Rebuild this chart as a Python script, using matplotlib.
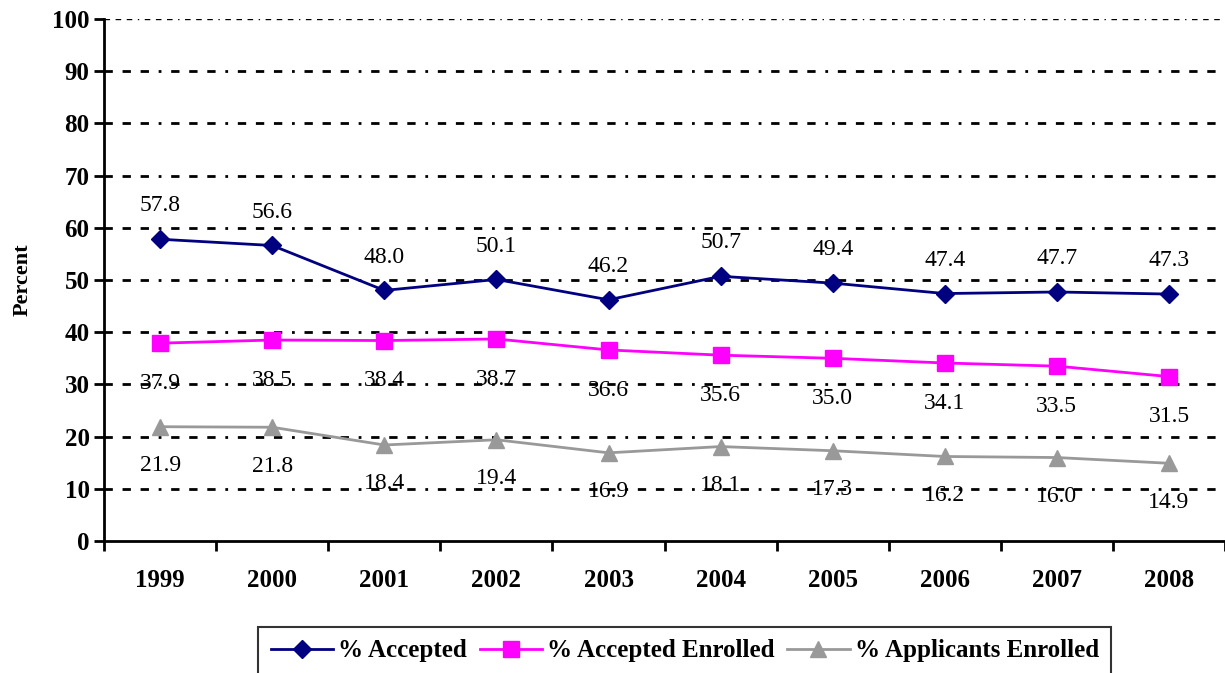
import matplotlib.pyplot as plt
import numpy as np

# DATA
years = ['1999', '2000', '2001', '2002', '2003', '2004', '2005', '2006', '2007', '2008']
accepted = [57.8, 56.6, 48.0, 50.1, 46.2, 50.7, 49.4, 47.4, 47.7, 47.3]
accepted_enrolled = [37.9, 38.5, 38.4, 38.7, 36.6, 35.6, 35.0, 34.1, 33.5, 31.5]
applicants_enrolled = [21.9, 21.8, 18.4, 19.4, 16.9, 18.1, 17.3, 16.2, 16.0, 14.9]

plt.rcParams['font.family'] = ['Liberation Serif', 'DejaVu Serif']

fig = plt.figure(figsize=(12.25, 6.73), dpi=100)
ax = fig.add_axes([0.085, 0.196, 0.915, 0.776])

x = np.arange(len(years))

ax.plot(x, accepted, color='#000080', marker='D', markersize=9, lw=2, label='% Accepted', zorder=3)
ax.plot(x, accepted_enrolled, color='#FF00FF', marker='s', markersize=11, lw=2, label='% Accepted Enrolled', zorder=3)
ax.plot(x, applicants_enrolled, color='#999999', marker='^', markersize=11, lw=2, label='% Applicants Enrolled', zorder=3)

# data labels
for i in range(len(x)):
    ax.annotate(f'{accepted[i]:.1f}', (x[i], accepted[i]), xytext=(0, 24), textcoords='offset points',
                ha='center', va='center', fontsize=17)
    ax.annotate(f'{accepted_enrolled[i]:.1f}', (x[i], accepted_enrolled[i]), xytext=(0, -29), textcoords='offset points',
                ha='center', va='center', fontsize=17)
    ax.annotate(f'{applicants_enrolled[i]:.1f}', (x[i], applicants_enrolled[i]), xytext=(0, -28), textcoords='offset points',
                ha='center', va='center', fontsize=17)

ax.set_ylim(0, 100)
ax.set_xlim(-0.5, 9.48)
ax.set_yticks(range(0, 101, 10))
for yv in range(10, 100, 10):
    ax.axhline(yv, color='black', lw=2, dashes=(3, 3.5, 3, 3.5, 3, 3.5, 1, 3.5), zorder=1)
ax.axhline(100, color='black', lw=1, dashes=(4, 4, 4, 4, 4, 4, 1, 4), zorder=1)

ax.set_xticks(x)
ax.set_xticklabels(years, fontsize=18, fontweight='bold')
ax.set_xticks(np.arange(-0.5, 9.6, 1), minor=True)
ax.tick_params(axis='x', which='major', length=0, pad=20)
ax.tick_params(axis='x', which='minor', length=7, width=2, direction='out')
ax.tick_params(axis='y', length=7, width=2, direction='out', labelsize=18)
for lab in ax.get_yticklabels():
    lab.set_fontweight('bold')

ax.spines['top'].set_visible(False)
ax.spines['right'].set_visible(False)
ax.spines['left'].set_linewidth(2)
ax.spines['bottom'].set_linewidth(2)

ax.set_ylabel('Percent', fontsize=16, fontweight='bold', labelpad=14)

leg = fig.legend(loc='upper center', bbox_to_anchor=(0.559, 0.087), ncol=3,
                 prop={'weight': 'bold', 'size': 18}, frameon=True, fancybox=False,
                 handlelength=2.5, columnspacing=0.5, handletextpad=0.2, borderpad=0.5)
leg.get_frame().set_edgecolor('black')
leg.get_frame().set_linewidth(1.5)

fig.savefig('out.png', dpi=100)
